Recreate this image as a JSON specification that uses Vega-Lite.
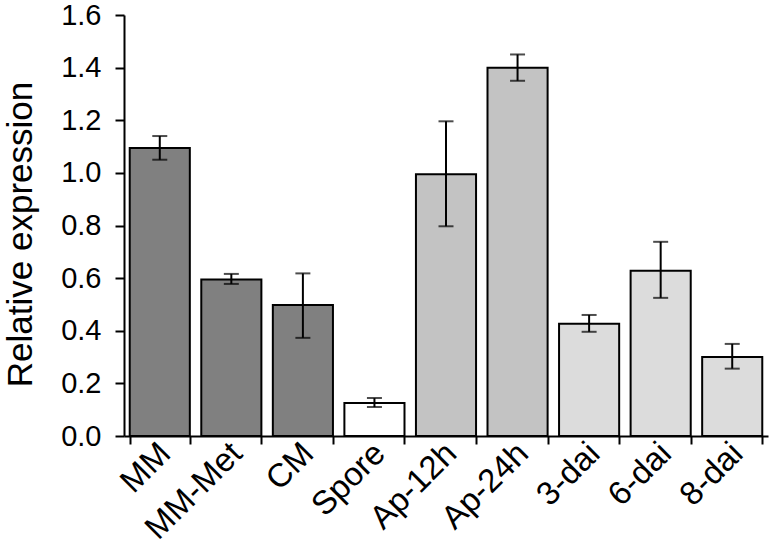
{
  "$schema": "https://vega.github.io/schema/vega-lite/v6.json",
  "width": 644,
  "height": 421,
  "autosize": {"type": "none"},
  "padding": {"left": 124, "top": 15, "right": 2, "bottom": 119},
  "background": "white",
  "config": {
    "view": {"stroke": null},
    "axis": {
      "labelFont": "Liberation Sans",
      "titleFont": "Liberation Sans",
      "labelColor": "black",
      "titleColor": "black",
      "domainColor": "black",
      "tickColor": "black",
      "domainWidth": 2,
      "tickWidth": 2,
      "grid": false
    }
  },
  "data": {
    "values": [
      {"cat": "MM", "value": 1.095, "lo": 1.05, "hi": 1.14, "group": "medium"},
      {"cat": "MM-Met", "value": 0.595, "lo": 0.578, "hi": 0.616, "group": "medium"},
      {"cat": "CM", "value": 0.498, "lo": 0.373, "hi": 0.618, "group": "medium"},
      {"cat": "Spore", "value": 0.125, "lo": 0.11, "hi": 0.144, "group": "spore"},
      {"cat": "Ap-12h", "value": 0.995, "lo": 0.797, "hi": 1.196, "group": "appressoria"},
      {"cat": "Ap-24h", "value": 1.4, "lo": 1.35, "hi": 1.45, "group": "appressoria"},
      {"cat": "3-dai", "value": 0.427, "lo": 0.396, "hi": 0.46, "group": "infection"},
      {"cat": "6-dai", "value": 0.628, "lo": 0.525, "hi": 0.738, "group": "infection"},
      {"cat": "8-dai", "value": 0.3, "lo": 0.256, "hi": 0.35, "group": "infection"}
    ]
  },
  "encoding": {
    "x": {
      "field": "cat",
      "type": "nominal",
      "sort": null,
      "scale": {"paddingInner": 0.16, "paddingOuter": 0.08},
      "axis": {
        "title": null,
        "labelAngle": -45,
        "labelAlign": "right",
        "labelBaseline": "middle",
        "labelFontSize": 33,
        "labelPadding": 4,
        "labelOffset": 5,
        "tickBand": "extent",
        "tickSize": 8
      }
    }
  },
  "layer": [
    {
      "mark": {"type": "bar", "stroke": "black", "strokeWidth": 2},
      "encoding": {
        "y": {
          "field": "value",
          "type": "quantitative",
          "title": "Relative expression",
          "scale": {"domain": [0, 1.6], "nice": false},
          "axis": {
            "titleFontSize": 35,
            "titleFontWeight": "normal",
            "titleX": -86,
            "titleY": 219,
            "titleAngle": -90,
            "titleBaseline": "bottom",
            "values": [0, 0.2, 0.4, 0.6, 0.8, 1.0, 1.2, 1.4, 1.6],
            "format": ".1f",
            "labelFontSize": 29,
            "labelPadding": 14,
            "tickSize": 9
          }
        },
        "fill": {
          "field": "group",
          "type": "nominal",
          "scale": {
            "domain": ["medium", "spore", "appressoria", "infection"],
            "range": ["#808080", "#ffffff", "#c3c3c3", "#dcdcdc"]
          },
          "legend": null
        }
      }
    },
    {
      "mark": {
        "type": "errorbar",
        "ticks": {"size": 15, "thickness": 2, "color": "black"},
        "rule": {"strokeWidth": 2, "color": "black"}
      },
      "encoding": {
        "y": {"field": "lo", "type": "quantitative", "title": "Relative expression"},
        "y2": {"field": "hi"}
      }
    }
  ]
}
